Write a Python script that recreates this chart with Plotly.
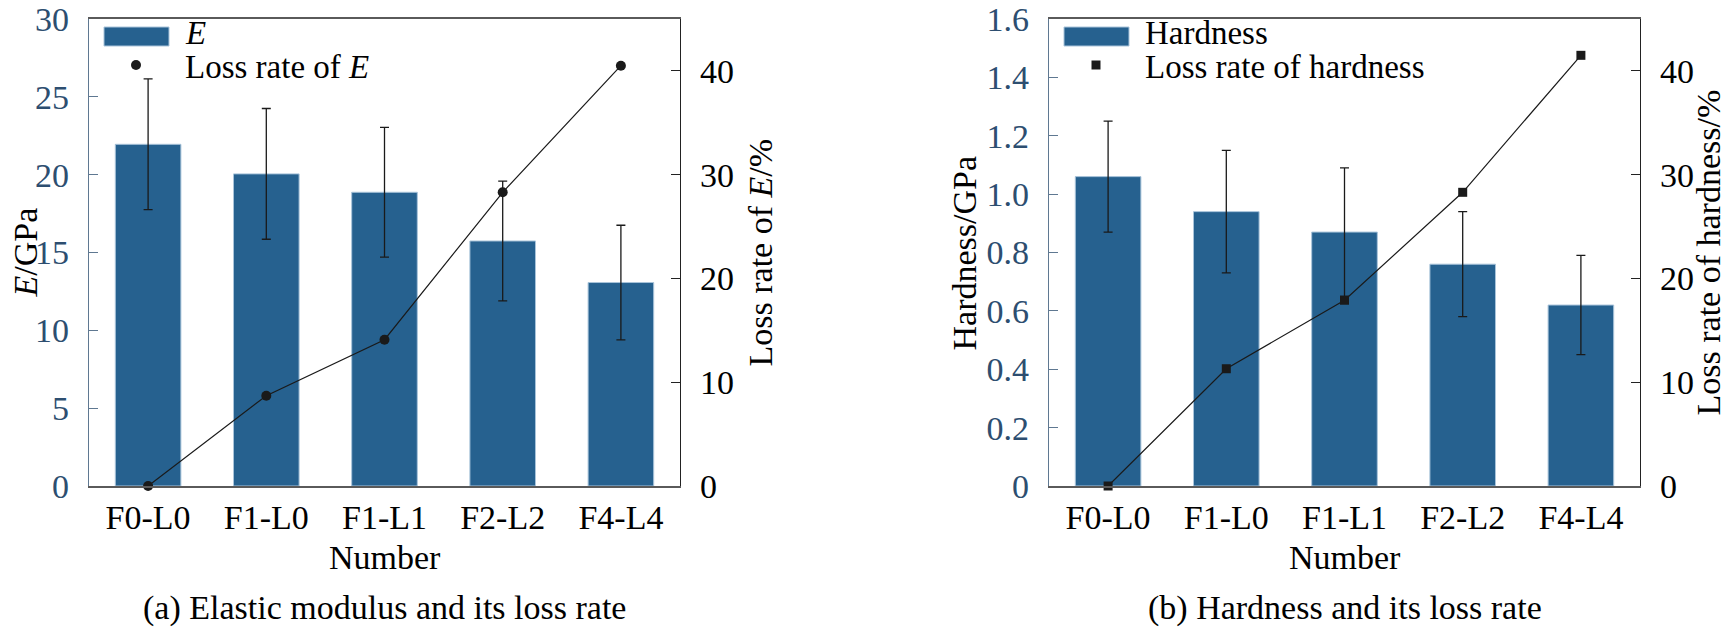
import plotly.graph_objects as go

# dados
numbers = ["F0-L0", "F1-L0", "F1-L1", "F2-L2", "F4-L4"]

e_mod = [21.95, 20.05, 18.87, 15.74, 13.07]
e_err = [4.2, 4.2, 4.17, 3.85, 3.68]
e_loss = [0, 8.7, 14.1, 28.3, 40.5]

hard = [1.06, 0.94, 0.87, 0.76, 0.62]
hard_err = [0.19, 0.21, 0.22, 0.18, 0.17]
hard_loss = [0, 11.3, 17.9, 28.3, 41.5]

e_ticks = [0, 5, 10, 15, 20, 25, 30]
hard_ticks = [0, 0.2, 0.4, 0.6, 0.8, 1.0, 1.2, 1.4, 1.6]
hard_ticktext = ["0", "0.2", "0.4", "0.6", "0.8", "1.0", "1.2", "1.4", "1.6"]
loss_ticks = [0, 10, 20, 30, 40]

# a pagina tem margem de 8 px no body, entao a figura fica deslocada
OFF = 8
W, H = 1731 - OFF, 629 - OFF
FONT = "Liberation Serif, Times New Roman, serif"
FS = 34
FS_LEG = 33
BAR_COLOR = "#26618f"
AXIS_BLUE = "#5f7891"
TICK_BLUE = "#2d4e70"


# converte pixels da tela para coordenadas paper
def px(x):
    return (x - OFF) / W


def py(y):
    return 1 - (y - OFF) / H


# posicoes dos paineis (pixels da tela)
left_a, right_a = 89, 680
left_b, right_b = 1049, 1640
top, bottom = 19, 486

fig = go.Figure()

fig.add_trace(go.Bar(
    x=numbers, y=e_mod, xaxis="x", yaxis="y",
    marker=dict(color=BAR_COLOR, line=dict(color="#a9c4da", width=1)),
    error_y=dict(type="data", array=e_err, color="#1a1a1a", thickness=1.3, width=4.5),
    showlegend=False
))
fig.add_trace(go.Scatter(
    x=numbers, y=e_loss, xaxis="x", yaxis="y2",
    mode="lines+markers",
    line=dict(color="#1a1a1a", width=1.2),
    marker=dict(symbol="circle", size=10, color="#1a1a1a"),
    cliponaxis=False, showlegend=False
))
fig.add_trace(go.Bar(
    x=numbers, y=hard, xaxis="x2", yaxis="y3",
    marker=dict(color=BAR_COLOR, line=dict(color="#a9c4da", width=1)),
    error_y=dict(type="data", array=hard_err, color="#1a1a1a", thickness=1.3, width=4.5),
    showlegend=False
))
fig.add_trace(go.Scatter(
    x=numbers, y=hard_loss, xaxis="x2", yaxis="y4",
    mode="lines+markers",
    line=dict(color="#1a1a1a", width=1.2),
    marker=dict(symbol="square", size=9, color="#1a1a1a"),
    cliponaxis=False, showlegend=False
))

ydom = [py(bottom), py(top)]

xaxis_common = dict(
    type="category", range=[-0.5, 4.5], automargin=False,
    showline=True, linecolor="#5a5a5a", linewidth=1.6, mirror=True,
    ticks="", showgrid=False, zeroline=False,
    ticklabelstandoff=0,
    tickfont=dict(family=FONT, size=FS, color="black")
)
yleft_common = dict(
    automargin=False,
    showline=True, linecolor=AXIS_BLUE, linewidth=1.2,
    ticks="inside", ticklen=9, tickcolor=AXIS_BLUE, tickwidth=1.2,
    showgrid=False, zeroline=False, ticklabelstandoff=12,
    ticklabeloverflow="allow",
    tickfont=dict(family=FONT, size=FS, color=TICK_BLUE)
)
yright_common = dict(
    side="right", range=[0, 45], tickvals=loss_ticks, automargin=False,
    showline=True, linecolor="#222", linewidth=1.2,
    ticks="inside", ticklen=9, tickcolor="#222", tickwidth=1.2,
    showgrid=False, zeroline=False, ticklabelstandoff=12,
    ticklabeloverflow="allow",
    tickfont=dict(family=FONT, size=FS, color="black")
)

fig.update_layout(
    width=W, height=H,
    margin=dict(l=0, r=0, t=0, b=0, pad=0, autoexpand=False),
    paper_bgcolor="white", plot_bgcolor="white",
    bargap=0.445,
    showlegend=False,
    font=dict(family=FONT, size=FS, color="black"),
    xaxis=dict(domain=[px(left_a), px(right_a)], anchor="y", **xaxis_common),
    yaxis=dict(domain=ydom, anchor="x", range=[0, 30], tickvals=e_ticks, **yleft_common),
    yaxis2=dict(overlaying="y", anchor="x", **yright_common),
    xaxis2=dict(domain=[px(left_b), px(right_b)], anchor="y3", **xaxis_common),
    yaxis3=dict(domain=ydom, anchor="x2", range=[0, 1.6], tickvals=hard_ticks,
                ticktext=hard_ticktext, **yleft_common),
    yaxis4=dict(overlaying="y3", anchor="x2", **yright_common),
)

# titulos dos eixos e legendas como anotacoes
annotations = []


def add_text(text, x, y, angle=0, xanchor="center", size=FS):
    annotations.append(dict(
        text=text, x=px(x), y=py(y), xref="paper", yref="paper",
        xanchor=xanchor, yanchor="middle", textangle=angle, showarrow=False,
        font=dict(family=FONT, size=size, color="black")
    ))


mid_y = (top + bottom) / 2
add_text("<i>E</i>/GPa", 25, mid_y, -90)
add_text("Loss rate of <i>E</i>/%", 760, mid_y, -90)
add_text("Hardness/GPa", 964, mid_y, -90)
add_text("Loss rate of hardness/%", 1708, mid_y, -90)

add_text("Number", (left_a + right_a) / 2, 557)
add_text("Number", (left_b + right_b) / 2, 557)
add_text("(a) Elastic modulus and its loss rate", (left_a + right_a) / 2, 608)
add_text("(b) Hardness and its loss rate", (left_b + right_b) / 2, 608)

# legenda manual (canto superior esquerdo de cada painel)
shapes = []
for x0, labels, sym in [(left_a, ["<i>E</i>", "Loss rate of <i>E</i>"], "circle"),
                        (left_b, ["Hardness", "Loss rate of hardness"], "square")]:
    shapes.append(dict(type="rect", xref="paper", yref="paper",
                       x0=px(x0 + 15), x1=px(x0 + 80), y0=py(46), y1=py(27),
                       fillcolor=BAR_COLOR, line=dict(color="#a9c4da", width=1)))
    cx, cy, r = x0 + 47, 65, 5 if sym == "circle" else 4.5
    shapes.append(dict(type="circle" if sym == "circle" else "rect",
                       xref="paper", yref="paper",
                       x0=px(cx - r), x1=px(cx + r), y0=py(cy + r), y1=py(cy - r),
                       fillcolor="#1a1a1a", line=dict(color="#1a1a1a", width=0)))
    add_text(labels[0], x0 + 94, 33, xanchor="left", size=FS_LEG)
    add_text(labels[1], x0 + 94, 67, xanchor="left", size=FS_LEG)

fig.update_layout(annotations=annotations, shapes=shapes)

fig.write_html("out.html")
